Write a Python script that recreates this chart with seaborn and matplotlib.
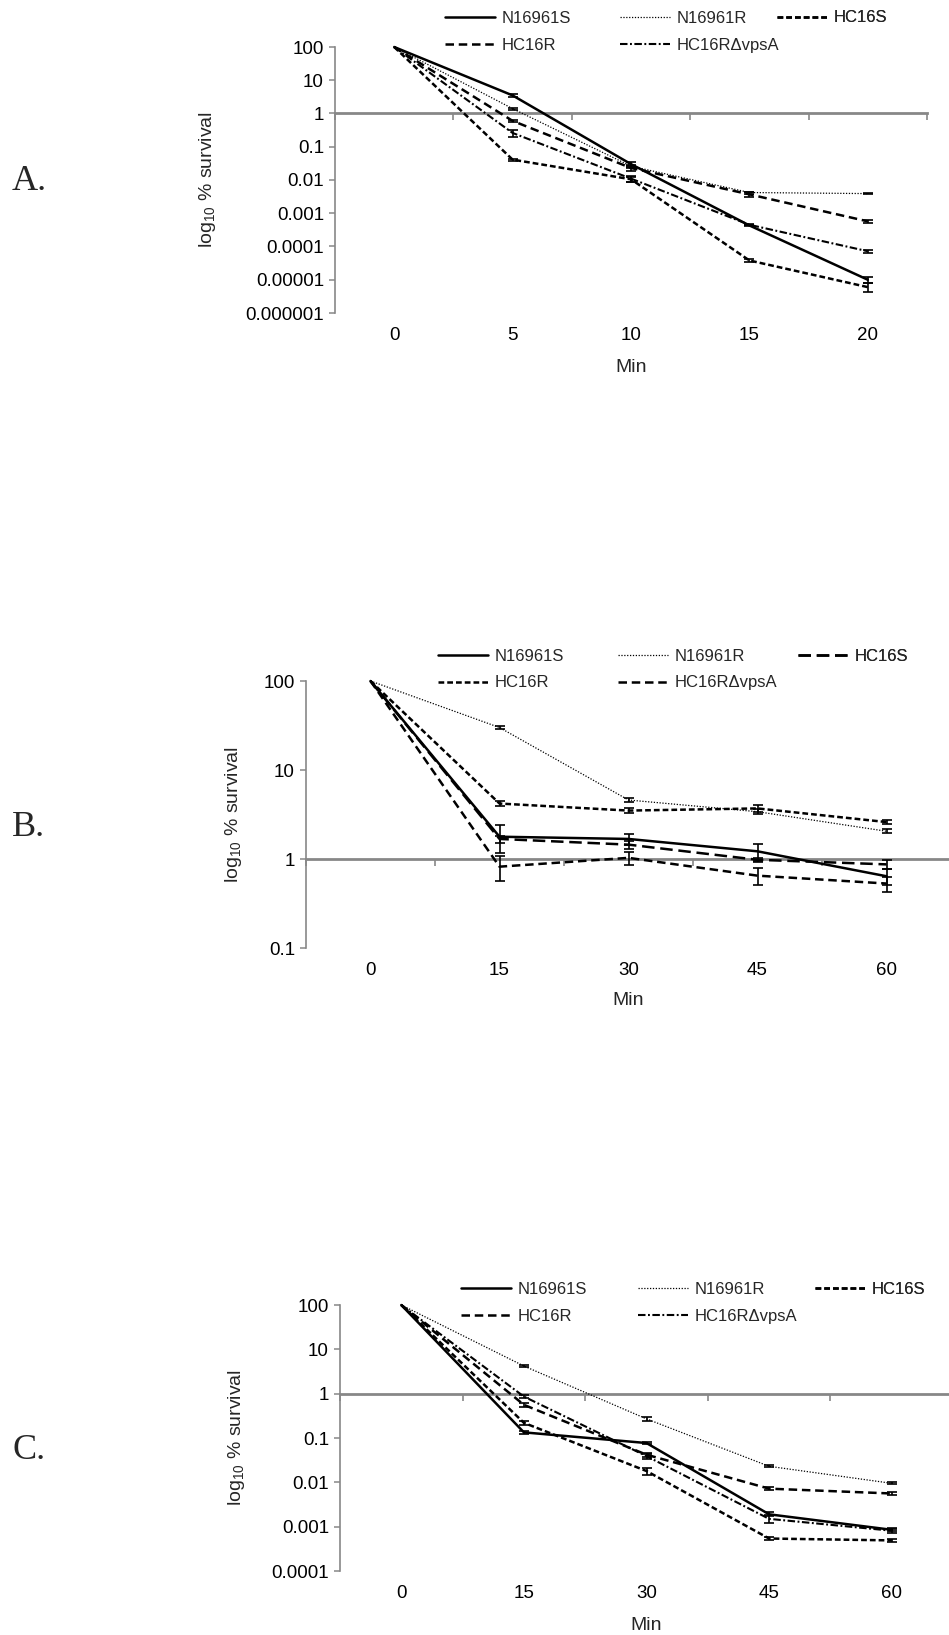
import matplotlib
matplotlib.use('Agg')
import matplotlib.pyplot as plt
import seaborn as sns
import numpy as np
from matplotlib.lines import Line2D
from matplotlib.ticker import FixedLocator, FuncFormatter, NullLocator


strains = ['N16961S', 'N16961R', 'HC16S', 'HC16R', 'HC16R\u0394vpsA']

# A. survival over 20 min
a_min = [0, 5, 10, 15, 20]
a_n16961s = [100, 3.5, 0.03, 0.00043, 0.00001]
a_n16961r = [100, 1.4, 0.026, 0.0042, 0.0039]
a_hc16s = [100, 0.041, 0.0105, 0.000038, 0.000006]
a_hc16r = [100, 0.6, 0.023, 0.0037, 0.00057]
a_vpsa = [100, 0.26, 0.011, 0.00045, 0.000072]
a_err_n16961s = [0, 0.3, 0.005, 0.00002, 0.000002]
a_err_n16961r = [0, 0.1, 0.003, 0.0003, 0.0002]
a_err_hc16s = [0, 0.003, 0.002, 0.000003, 0.0000018]
a_err_hc16r = [0, 0.05, 0.004, 0.0006, 0.00007]
a_err_vpsa = [0, 0.07, 0.002, 0.00002, 0.000007]
a_yticks = [1e-6, 1e-5, 1e-4, 1e-3, 1e-2, 1e-1, 1, 10, 100]

# B. survival over 60 min
b_min = [0, 15, 30, 45, 60]
b_n16961s = [100, 1.78, 1.68, 1.22, 0.64]
b_n16961r = [100, 30, 4.6, 3.4, 2.05]
b_hc16s = [100, 1.68, 1.45, 0.98, 0.87]
b_hc16r = [100, 4.2, 3.5, 3.7, 2.6]
b_vpsa = [100, 0.82, 1.03, 0.65, 0.53]
b_err_n16961s = [0, 0.6, 0.25, 0.27, 0.13]
b_err_n16961r = [0, 1.0, 0.2, 0.2, 0.1]
b_err_hc16s = [0, 0.15, 0.15, 0.05, 0.1]
b_err_hc16r = [0, 0.25, 0.2, 0.3, 0.15]
b_err_vpsa = [0, 0.25, 0.17, 0.14, 0.1]
b_yticks = [0.1, 1, 10, 100]

# C. survival over 60 min
c_min = [0, 15, 30, 45, 60]
c_n16961s = [100, 0.134, 0.077, 0.0019, 0.00085]
c_n16961r = [100, 4.2, 0.27, 0.023, 0.0095]
c_hc16s = [100, 0.22, 0.018, 0.00054, 0.00049]
c_hc16r = [100, 0.56, 0.042, 0.0072, 0.0056]
c_vpsa = [100, 0.86, 0.039, 0.0015, 0.00081]
c_err_n16961s = [0, 0.01, 0.005, 0.0002, 0.00005]
c_err_n16961r = [0, 0.2, 0.03, 0.001, 0.0005]
c_err_hc16s = [0, 0.02, 0.003, 0.00005, 0.00003]
c_err_hc16r = [0, 0.05, 0.005, 0.0005, 0.0003]
c_err_vpsa = [0, 0.05, 0.005, 0.0003, 0.0001]
c_yticks = [1e-4, 1e-3, 1e-2, 1e-1, 1, 10, 100]

# line styles (linestyle, linewidth)
SOLID = ('-', 1.8)
DOTTED = ((0, (1, 1.3)), 0.9)
DENSE = ((0, (2.3, 1.2)), 1.8)
DASH = ((0, (3.4, 1.9)), 1.8)
DASHDOT = ((0, (3.6, 1.2, 0.9, 1.2)), 1.5)
LONGDASH = ((0, (5, 2.3)), 1.8)

W, H = 949, 1635
GREY = '#878787'

sns.set_theme(style='white')
plt.rcParams['font.family'] = ['Liberation Sans', 'DejaVu Sans']
plt.rcParams['mathtext.default'] = 'regular'

fig = plt.figure(figsize=(W / 100, H / 100), dpi=100)


def fmt_tick(v, pos):
    return np.format_float_positional(v, trim='-')


def draw_panel(rect, minutes, series, errors, styles, yticks, legend_cols, legend_rows,
               ylabel_x, xlabel_y):
    left, top, right, bottom = rect
    ax = fig.add_axes([left / W, 1 - bottom / H, (right - left) / W, (bottom - top) / H])
    pos = np.arange(len(minutes))

    handles = []
    for name, vals, err, (ls, lw) in zip(strains, series, errors, styles):
        sns.lineplot(x=pos, y=vals, ax=ax, color='black', linestyle=ls, linewidth=lw,
                     clip_on=False, zorder=3)
        err = np.array(err)
        m = err > 0
        ax.errorbar(pos[m], np.array(vals)[m], yerr=err[m], fmt='none', ecolor='black',
                    elinewidth=1.2, capsize=3.5, capthick=1.2, zorder=4, clip_on=False)
        handles.append(Line2D([], [], color='black', linestyle=ls, linewidth=lw))

    ax.set_yscale('log')
    ax.set_ylim(yticks[0], yticks[-1])
    ax.yaxis.set_major_locator(FixedLocator(yticks))
    ax.yaxis.set_minor_locator(NullLocator())
    ax.yaxis.set_major_formatter(FuncFormatter(fmt_tick))
    ax.set_xlim(-0.5, len(minutes) - 0.5)
    ax.set_xticks(pos)
    ax.set_xticklabels([str(v) for v in minutes])

    for s in ['top', 'right', 'bottom']:
        ax.spines[s].set_visible(False)
    ax.spines['left'].set_color(GREY)
    ax.spines['left'].set_linewidth(1.2)
    ax.tick_params(axis='x', length=0, pad=10, labelsize=13.5, colors='black')
    ax.tick_params(axis='y', which='major', left=True, direction='out', length=4, width=1.1,
                   color=GREY, pad=4, labelsize=13.5, labelcolor='black')
    ax.grid(False)
    ax.patch.set_alpha(0)

    # horizontal axis crossing at 1
    lo, hi = np.log10(yticks[0]), np.log10(yticks[-1])
    secax = ax.secondary_xaxis((0 - lo) / (hi - lo))
    secax.set_alignment('bottom')
    secax.set_xticks(np.arange(len(minutes) + 1) - 0.5)
    secax.tick_params(axis='x', direction='out', length=5, width=1.2, color=GREY,
                      labelbottom=False, labeltop=False)
    for s in secax.spines.values():
        s.set_color(GREY)
        s.set_linewidth(2)

    ax.set_ylabel('log$_{10}$ % survival', fontsize=14)
    ax.yaxis.set_label_coords((ylabel_x - left) / (right - left), 0.5)
    ax.set_xlabel('Min', fontsize=14)
    ax.xaxis.set_label_coords(0.5, -(xlabel_y - bottom) / (bottom - top))

    # legend laid out in a 2-row grid, one legend per column
    for k, xs in enumerate(legend_cols):
        idx = [i for i in (k, k + 3) if i < len(handles)]
        yc = np.mean([legend_rows[i // 3] for i in idx])
        leg = ax.legend(handles=[handles[i] for i in idx], labels=[strains[i] for i in idx],
                        loc='center left', bbox_to_anchor=(xs / W, 1 - yc / H),
                        bbox_transform=fig.transFigure, frameon=False, borderpad=0,
                        borderaxespad=0, handlelength=3.0, handletextpad=0.4,
                        labelspacing=0.7, fontsize=12)
        ax.add_artist(leg)
    return ax


draw_panel((335, 47, 927, 313), a_min,
           [a_n16961s, a_n16961r, a_hc16s, a_hc16r, a_vpsa],
           [a_err_n16961s, a_err_n16961r, a_err_hc16s, a_err_hc16r, a_err_vpsa],
           [SOLID, DOTTED, DENSE, DASH, DASHDOT], a_yticks,
           [445, 620, 777], [18, 46], 218, 359)

draw_panel((306, 681, 951, 948), b_min,
           [b_n16961s, b_n16961r, b_hc16s, b_hc16r, b_vpsa],
           [b_err_n16961s, b_err_n16961r, b_err_hc16s, b_err_hc16r, b_err_vpsa],
           [SOLID, DOTTED, LONGDASH, DENSE, DASH], b_yticks,
           [438, 618, 798], [656, 683], 244, 992)

draw_panel((340, 1305, 953, 1571), c_min,
           [c_n16961s, c_n16961r, c_hc16s, c_hc16r, c_vpsa],
           [c_err_n16961s, c_err_n16961r, c_err_hc16s, c_err_hc16r, c_err_vpsa],
           [SOLID, DOTTED, DENSE, DASH, DASHDOT], c_yticks,
           [461, 638, 815], [1289, 1317], 247, 1617)

for lab, yc in [('A.', 181), ('B.', 827), ('C.', 1450)]:
    fig.text(12 / W, 1 - yc / H, lab, ha='left', va='center', fontsize=26,
             family=['Liberation Serif', 'DejaVu Serif'])

fig.savefig('out.png', dpi=100)
